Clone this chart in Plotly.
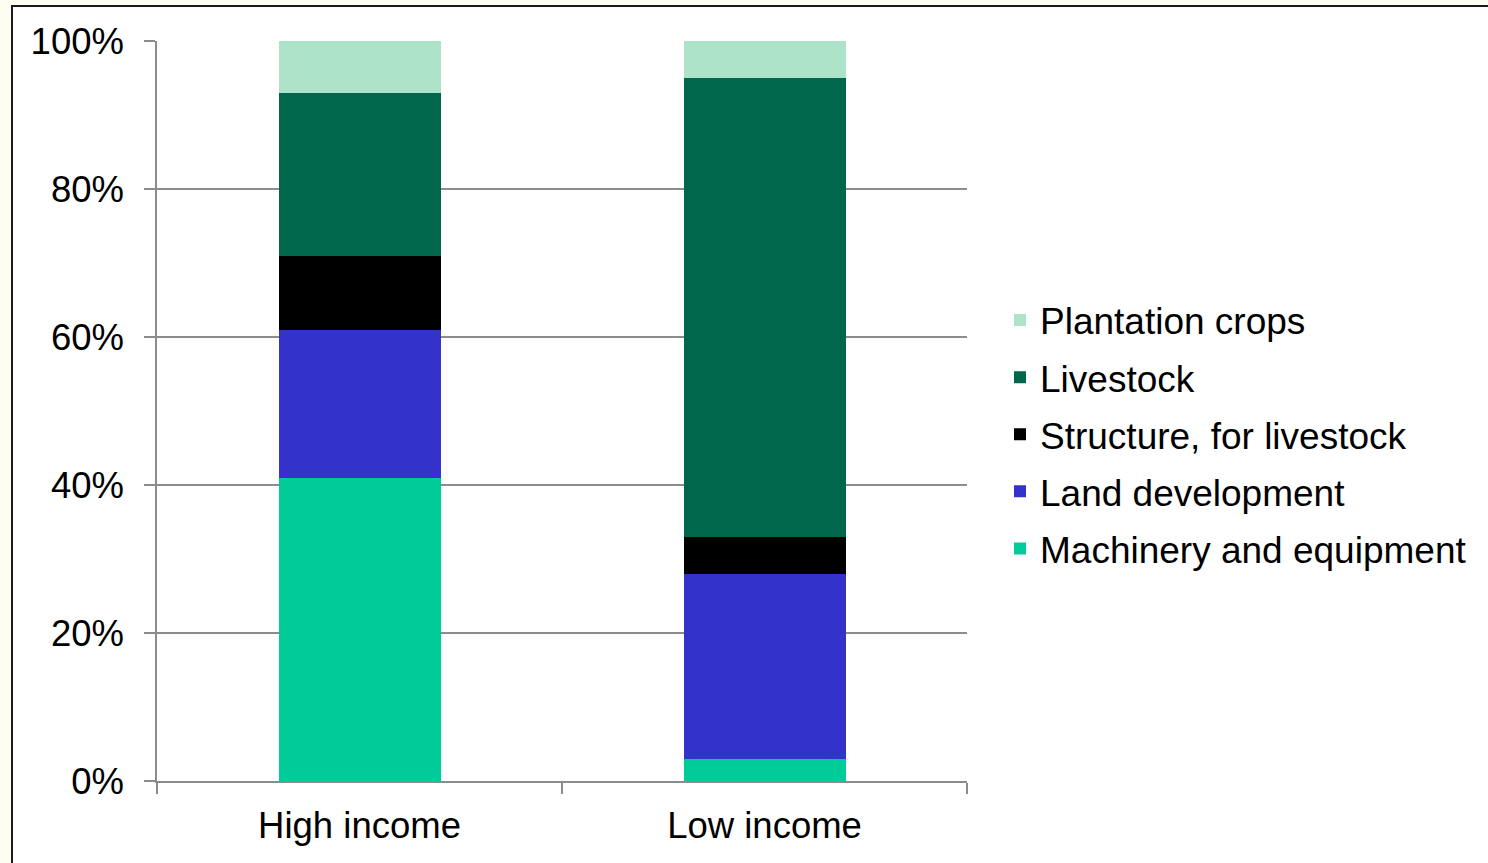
import plotly.graph_objects as go

categories = ["High income", "Low income"]
series_names = ["Machinery and equipment", "Land development", "Structure, for livestock",
                "Livestock", "Plantation crops"]
machinery = [0.41, 0.03]
land = [0.20, 0.25]
structure = [0.10, 0.05]
livestock = [0.22, 0.62]
plantation = [0.07, 0.05]
colors = ["#00CC99", "#3333CC", "#000000", "#00664C", "#ACE3C9"]
y_ticks = [0, 0.2, 0.4, 0.6, 0.8, 1.0]

FONT = "Liberation Sans, Arial, sans-serif"
W, H = 1488, 863
L, R, T, B = 157, 521, 41, 82
pw, ph = W - L - R, H - T - B

fig = go.Figure()
all_vals = [machinery, land, structure, livestock, plantation]
for i, (name, vals) in enumerate(zip(series_names, all_vals)):
    fig.add_trace(go.Bar(x=categories, y=vals, name=name, marker_color=colors[i],
                         marker_line_width=0, legendgroup=name,
                         legendrank=len(series_names) - i))

def px_x(px):
    return (px - L) / pw

def px_y(py):
    return (H - B - py) / ph

fig.update_layout(
    width=W, height=H,
    margin=dict(l=L, r=R, t=T, b=B, pad=0),
    barmode="stack", bargap=0.6,
    paper_bgcolor="#FDFDF3", plot_bgcolor="rgba(0,0,0,0)",
    font=dict(family=FONT, size=36.5, color="#000000"),
    showlegend=True,
    legend=dict(x=px_x(1000), y=px_y(434.5), xanchor="left", yanchor="middle",
                traceorder="grouped", tracegroupgap=6,
                font=dict(family=FONT, size=37, color="#000000"),
                bgcolor="rgba(0,0,0,0)", borderwidth=0),
    shapes=[dict(type="rect", xref="paper", yref="paper",
                 x0=px_x(12), x1=px_x(1600), y0=px_y(950), y1=px_y(6),
                 line=dict(color="#1a1a1a", width=2), fillcolor="#FFFFFF", layer="below")],
    xaxis=dict(showline=True, linecolor="#8c8c8c", linewidth=1.5,
               ticks="outside", ticklen=11, tickcolor="#8c8c8c", tickwidth=1.5,
               tickson="boundaries", showgrid=False, zeroline=False,
               ticklabelstandoff=11,
               tickfont=dict(family=FONT, size=36.5, color="#000000")),
    yaxis=dict(range=[0, 1], tickvals=y_ticks, tickformat=".0%",
               showline=True, linecolor="#8c8c8c", linewidth=1.5,
               ticks="outside", ticklen=11, tickcolor="#8c8c8c", tickwidth=1.5,
               showgrid=True, gridcolor="#8c8c8c", gridwidth=1.5, zeroline=False,
               ticklabelstandoff=13,
               tickfont=dict(family=FONT, size=36.5, color="#000000")),
)

fig.write_html("out.html")
